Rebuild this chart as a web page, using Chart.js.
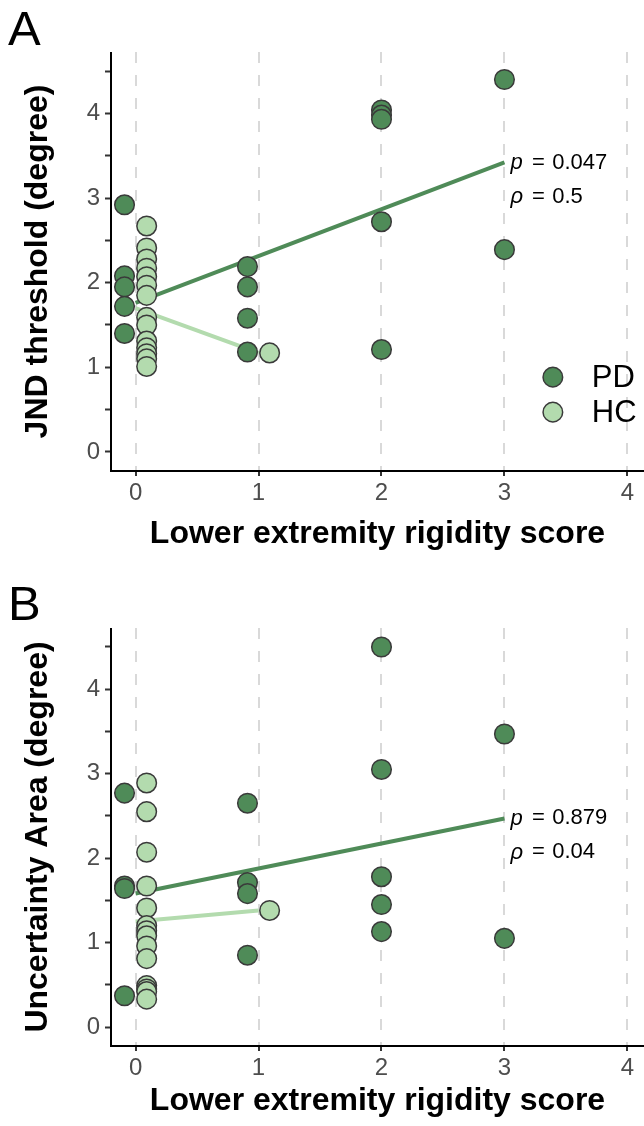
<!DOCTYPE html>
<html><head><meta charset="utf-8">
<script src="https://cdn.jsdelivr.net/npm/chart.js@4/dist/chart.umd.min.js"></script>
<style>
html,body{margin:0;padding:0;background:#fff;overflow:hidden;}
canvas{display:block;}
</style></head><body>
<canvas id="cA" width="644" height="563"></canvas>
<canvas id="cB" width="644" height="563"></canvas>
<script>
// ---------- data ----------
const scoreTicks = [0, 1, 2, 3, 4];
const seriesNames = ['PD', 'HC'];
const xTitle = 'Lower extremity rigidity score';

// Panel A : JND threshold (degree)
const A_pdScore = [0,0,0,0,0, 1,1,1,1, 2,2,2,2,2, 3,3];
const A_pdValue = [2.92,2.08,1.95,1.72,1.40, 2.19,1.95,1.58,1.18, 4.04,3.98,3.93,2.72,1.21, 4.40,2.39];
const A_hcScore = [0,0,0,0,0,0,0,0,0,0,0,0,0,0, 1];
const A_hcValue = [2.67,2.41,2.28,2.17,2.07,1.97,1.85,1.59,1.50,1.31,1.23,1.16,1.10,1.01, 1.17];
const A_pdFitX = [0, 3];
const A_pdFitY = [1.76, 3.42];
const A_hcFitX = [0, 1];
const A_hcFitY = [1.70, 1.17];
const A_pValue = '0.047';
const A_rho = '0.5';
const A_yTitle = 'JND threshold (degree)';

// Panel B : Uncertainty Area (degree)
const B_pdScore = [0,0,0,0, 1,1,1,1, 2,2,2,2,2, 3,3];
const B_pdValue = [2.77,1.67,1.64,0.37, 2.65,1.71,1.58,0.85, 4.50,3.05,1.78,1.45,1.13, 3.47,1.05];
const B_hcScore = [0,0,0,0,0,0,0,0,0,0,0,0,0,0, 1];
const B_hcValue = [2.89,2.55,2.07,1.67,1.41,1.20,1.14,1.08,0.96,0.81,0.49,0.45,0.42,0.33, 1.38];
const B_pdFitX = [0, 3];
const B_pdFitY = [1.58, 2.47];
const B_hcFitX = [0, 1];
const B_hcFitY = [1.25, 1.38];
const B_pValue = '0.879';
const B_rho = '0.04';
const B_yTitle = 'Uncertainty Area (degree)';

// ---------- styles ----------
const PD_COLOR = '#4f8b58';
const HC_COLOR = '#b3dbae';
const EDGE = '#3a3a3a';
const FONT = "'Liberation Sans', Arial, sans-serif";
const DODGE = 0.09;

function pts(scores, values, otherScores, side) {
  return scores.map((s, i) => ({
    x: otherScores.includes(s) ? s + side * DODGE : s,
    y: values[i]
  }));
}
function line(xs, ys) { return xs.map((x, i) => ({x: x, y: ys[i]})); }

const deco = {
  id: 'deco',
  beforeDatasetsDraw(chart) {
    const ctx = chart.ctx, ca = chart.chartArea;
    ctx.save();
    ctx.strokeStyle = '#000';
    ctx.lineWidth = 2;
    ctx.setLineDash([]);
    ctx.beginPath();
    ctx.moveTo(ca.left, ca.top);
    ctx.lineTo(ca.left, ca.bottom);
    ctx.lineTo(ca.right, ca.bottom);
    ctx.stroke();
    ctx.restore();
  },
  afterDatasetsDraw(chart, args, o) {
    const ctx = chart.ctx;
    const xs = chart.scales.x, ys = chart.scales.y;
    ctx.save();
    ctx.fillStyle = '#000';
    ctx.font = '49px ' + FONT;
    ctx.textAlign = 'left';
    ctx.textBaseline = 'alphabetic';
    ctx.fillText(o.letter, o.letterX, o.letterY);
    const fs = 22;
    const x0 = xs.getPixelForValue(o.fitX) + 6;
    const y0 = ys.getPixelForValue(o.fitY);
    const rows = [['p', o.p], ['\u03C1', o.rho]];
    rows.forEach((r, k) => {
      const yy = y0 + k * 34;
      ctx.textBaseline = 'middle';
      ctx.font = 'italic ' + fs + 'px ' + FONT;
      ctx.fillText(r[0], x0, yy);
      ctx.font = fs + 'px ' + FONT;
      ctx.fillText('=', x0 + 0.98 * fs, yy);
      ctx.fillText(r[1], x0 + 1.9 * fs, yy);
    });
    if (o.legend) {
      const ca = chart.chartArea;
      const lx = ca.left + 0.829 * (ca.right - ca.left);
      const ly0 = ca.top + 0.776 * (ca.bottom - ca.top);
      [[seriesNames[0], PD_COLOR], [seriesNames[1], HC_COLOR]].forEach((it, k) => {
        const ly = ly0 + k * 35;
        ctx.beginPath();
        ctx.arc(lx, ly, 9.8, 0, Math.PI * 2);
        ctx.fillStyle = it[1];
        ctx.fill();
        ctx.lineWidth = 1.5;
        ctx.strokeStyle = EDGE;
        ctx.stroke();
        ctx.fillStyle = '#000';
        ctx.font = '31px ' + FONT;
        ctx.textBaseline = 'middle';
        ctx.fillText(it[0], lx + 39, ly + 1);
      });
    }
    ctx.restore();
  }
};

function makeChart(id, p) {
  const pdPts = pts(p.pdScore, p.pdValue, p.hcScore, -1);
  const hcPts = pts(p.hcScore, p.hcValue, p.pdScore, 1);
  return new Chart(document.getElementById(id), {
    type: 'scatter',
    data: {
      datasets: [
        {label: 'PD', data: pdPts, backgroundColor: PD_COLOR, borderColor: EDGE, borderWidth: 1.5, pointRadius: 9.8, order: 1},
        {label: 'HC', data: hcPts, backgroundColor: HC_COLOR, borderColor: EDGE, borderWidth: 1.5, pointRadius: 9.8, order: 1},
        {label: 'PD fit', data: line(p.pdFitX, p.pdFitY), showLine: true, borderColor: PD_COLOR, borderWidth: 4, pointRadius: 0, order: 2},
        {label: 'HC fit', data: line(p.hcFitX, p.hcFitY), showLine: true, borderColor: HC_COLOR, borderWidth: 4, pointRadius: 0, order: 2}
      ]
    },
    options: {
      responsive: false,
      animation: false,
      devicePixelRatio: 1,
      layout: {autoPadding: false, padding: {top: p.top, right: 0, left: 0, bottom: 0}},
      plugins: {
        legend: {display: false},
        tooltip: {enabled: false},
        deco: {letter: p.letter, letterX: 8, letterY: p.letterY, p: p.pValue, rho: p.rho,
               fitX: p.pdFitX[1], fitY: p.pdFitY[1], legend: p.legend}
      },
      scales: {
        x: {
          type: 'linear', min: -0.2, max: 4.135,
          afterBuildTicks: s => { s.ticks = scoreTicks.map(v => ({value: v})); },
          afterFit: s => { s.height = p.xH; s.paddingLeft = 0; s.paddingRight = 0; },
          ticks: {font: {family: FONT, size: 24}, color: '#4d4d4d', padding: 3, autoSkip: false, maxRotation: 0},
          grid: {display: true, drawOnChartArea: true, color: '#d9d9d9', lineWidth: 2,
                 tickColor: '#333', tickWidth: 2, tickLength: 5, tickBorderDash: []},
          border: {display: false, dash: [11, 12]},
          title: {display: true, text: xTitle, font: {family: FONT, size: 32, weight: 'bold'}, color: '#000',
                  padding: {top: 0, bottom: p.xTitlePad}}
        },
        y: {
          type: 'linear', min: -0.225, max: 4.725,
          afterBuildTicks: s => { const t = []; for (let v = 0; v <= 4.5; v += 0.5) t.push({value: v}); s.ticks = t; },
          afterFit: s => { s.width = 111; s.paddingTop = 0; s.paddingBottom = 0; },
          ticks: {font: {family: FONT, size: 24}, color: '#4d4d4d', padding: 5, autoSkip: false,
                  callback: v => Number.isInteger(v) ? String(v) : ''},
          grid: {display: true, drawOnChartArea: false, tickColor: '#333', tickWidth: 2, tickLength: 6},
          border: {display: false},
          title: {display: true, text: p.yTitle, font: {family: FONT, size: 32, weight: 'bold'}, color: '#000',
                  padding: {top: 19, bottom: 0}}
        }
      }
    },
    plugins: [deco]
  });
}

makeChart('cA', {pdScore: A_pdScore, pdValue: A_pdValue, hcScore: A_hcScore, hcValue: A_hcValue,
  pdFitX: A_pdFitX, pdFitY: A_pdFitY, hcFitX: A_hcFitX, hcFitY: A_hcFitY,
  pValue: A_pValue, rho: A_rho, yTitle: A_yTitle, letter: 'A', letterY: 45, legend: true,
  top: 52, xH: 92, xTitlePad: 10});
makeChart('cB', {pdScore: B_pdScore, pdValue: B_pdValue, hcScore: B_hcScore, hcValue: B_hcValue,
  pdFitX: B_pdFitX, pdFitY: B_pdFitY, hcFitX: B_hcFitX, hcFitY: B_hcFitY,
  pValue: B_pValue, rho: B_rho, yTitle: B_yTitle, letter: 'B', letterY: 57, legend: false,
  top: 65, xH: 80, xTitlePad: 6});
</script>
</body></html>
